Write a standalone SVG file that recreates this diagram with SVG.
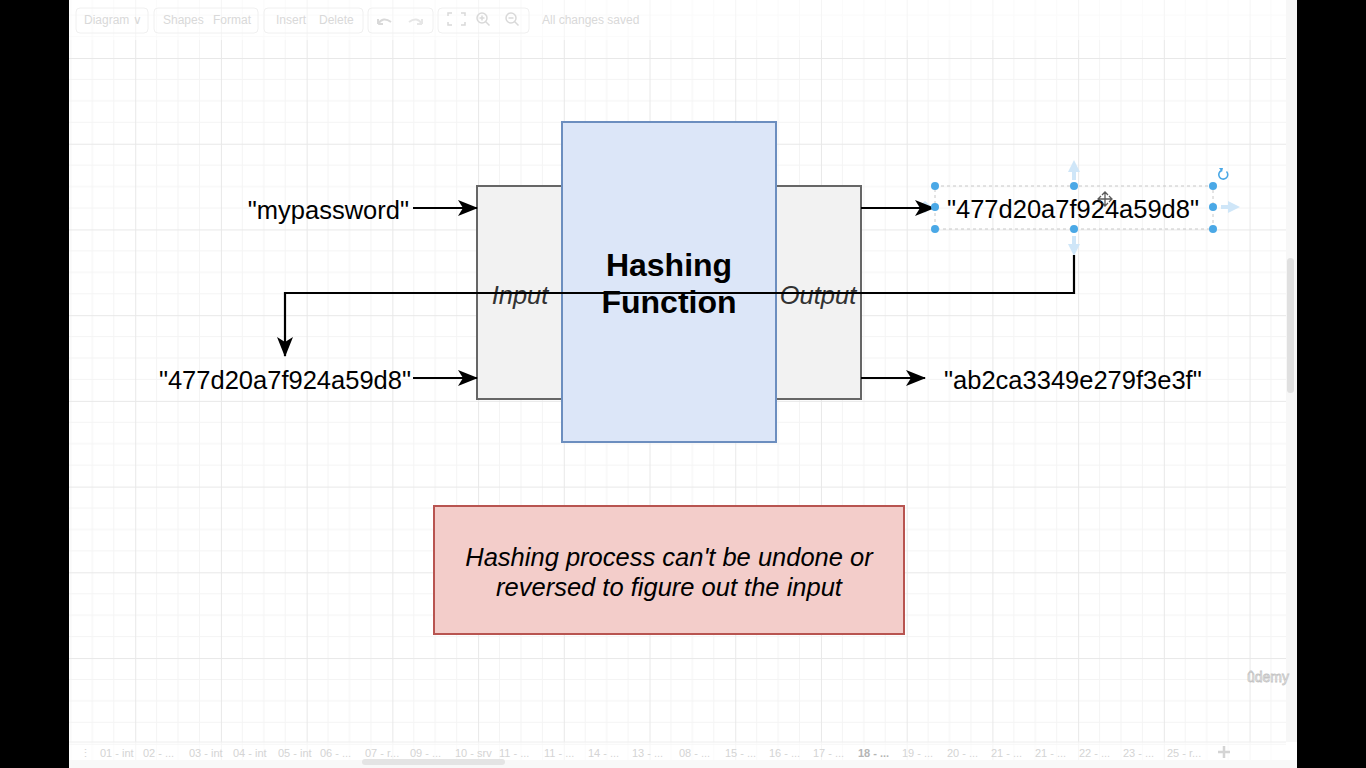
<svg xmlns="http://www.w3.org/2000/svg" width="1366" height="768" viewBox="0 0 1366 768">
  <defs>
    <pattern id="grid" patternUnits="userSpaceOnUse" x="135.2" y="58" width="85.72" height="85.72">
      <path d="M21.43,0V85.72M42.86,0V85.72M64.29,0V85.72M0,21.43H85.72M0,42.86H85.72M0,64.29H85.72" stroke="#f4f4f4" stroke-width="1" fill="none"/>
      <path d="M0.5,0V85.72M0,0.5H85.72" stroke="#e8e8e8" stroke-width="1" fill="none"/>
    </pattern>
    <marker id="arr" viewBox="0 0 20 16" refX="19" refY="8" markerWidth="20" markerHeight="16" markerUnits="userSpaceOnUse" orient="auto">
      <path d="M0,0 L20,8 L0,16 L5,8 Z" fill="#000"/>
    </marker>
    <marker id="hint" viewBox="0 0 12 12" refX="6" refY="6" markerWidth="12" markerHeight="12" markerUnits="userSpaceOnUse" orient="auto">
      <path d="M0,0 L12,6 L0,12 Z" fill="#cfe6f8"/>
    </marker>
  </defs>
  <style>
    .lbl { font-family: "Liberation Sans", Arial, sans-serif; font-size: 25.5px; fill: #000; }
    .it { font-family: "Liberation Sans", Arial, sans-serif; font-size: 25.5px; font-style: italic; fill: #333; }
    .bold { font-family: "Liberation Sans", Arial, sans-serif; font-size: 32px; font-weight: bold; fill: #000; }
    .box { fill: #f2f2f2; stroke: #666; stroke-width: 2; }
    .conn { stroke: #000; stroke-width: 2.2; fill: none; }
    .ui { font-family: "Liberation Sans", Arial, sans-serif; font-size: 12px; fill: #d9d9d9; }
    .tab { font-family: "Liberation Sans", Arial, sans-serif; font-size: 11px; fill: #d4d4d4; }
    .tbbox { fill: none; stroke: #f0f0f0; stroke-width: 1; }
    .handle { fill: #4aa8e6; }
    .hintl { stroke: #cfe6f8; stroke-width: 4; fill: none; }
  </style>

  <!-- frame -->
  <rect x="0" y="0" width="1366" height="768" fill="#000"/>
  <rect x="69" y="0" width="1228" height="768" fill="#fff"/>
  <rect x="69" y="0" width="1217" height="768" fill="url(#grid)"/>
  <rect x="1286" y="0" width="11" height="742" fill="#f7f7f7"/>
  <rect x="1287" y="258" width="7" height="135" rx="3.5" fill="#e0e0e0"/>

  <!-- faint toolbar -->
  <g id="toolbar">
    <rect x="69" y="0" width="1217" height="40" fill="#fff" opacity="0.55"/>
    <rect class="tbbox" x="76" y="8" width="72" height="25" rx="4"/>
    <rect class="tbbox" x="154" y="8" width="104" height="25" rx="4"/>
    <rect class="tbbox" x="264" y="8" width="99" height="25" rx="4"/>
    <rect class="tbbox" x="368" y="8" width="65" height="25" rx="4"/>
    <rect class="tbbox" x="438" y="8" width="91" height="25" rx="4"/>
    <text class="ui" x="84" y="24">Diagram ∨</text>
    <text class="ui" x="163" y="24">Shapes</text>
    <text class="ui" x="213" y="24">Format</text>
    <text class="ui" x="276" y="24">Insert</text>
    <text class="ui" x="319" y="24">Delete</text>
    <path d="M378,24 q5,-8 13,-2 M378,24 v-5 M378,24 h5" stroke="#d9d9d9" stroke-width="2" fill="none"/>
    <path d="M422,24 q-5,-8 -13,-2 M422,24 v-5 M422,24 h-5" stroke="#e6e6e6" stroke-width="2" fill="none"/>
    <path d="M448,16 v-3 h4 M461,13 h4 v3 M448,22 v3 h4 M461,25 h4 v-3" stroke="#d9d9d9" stroke-width="1.5" fill="none"/>
    <circle cx="482" cy="18" r="5" stroke="#d9d9d9" stroke-width="1.5" fill="none"/>
    <path d="M485.5,21.5 l4,4 M479.5,18 h5 M482,15.5 v5" stroke="#d9d9d9" stroke-width="1.5"/>
    <circle cx="511" cy="18" r="5" stroke="#d9d9d9" stroke-width="1.5" fill="none"/>
    <path d="M514.5,21.5 l4,4 M508.5,18 h5" stroke="#d9d9d9" stroke-width="1.5"/>
    <text class="ui" x="542" y="24">All changes saved</text>
  </g>

  <!-- nodes -->
  <g id="input-box">
    <rect class="box" x="477" y="186" width="85" height="213"/>
    <text class="it" x="520" y="304" text-anchor="middle">Input</text>
  </g>
  <g id="output-box">
    <rect class="box" x="776" y="186" width="85" height="213"/>
    <text class="it" x="818" y="304" text-anchor="middle">Output</text>
  </g>
  <g id="hashing-function">
    <rect x="562" y="122" width="214" height="320" fill="#dce6f8" stroke="#6c8ebf" stroke-width="2"/>
    <text class="bold" x="669" y="276" text-anchor="middle">Hashing</text>
    <text class="bold" x="669" y="313" text-anchor="middle">Function</text>
  </g>
  <g id="in-mypassword">
    <text class="lbl" x="409" y="218.5" text-anchor="end">"mypassword"</text>
  </g>
  <g id="in-hash">
    <text class="lbl" x="411" y="388.5" text-anchor="end">"477d20a7f924a59d8"</text>
  </g>
  <g id="out-hash1">
    <rect x="935" y="186" width="278" height="43" fill="none" stroke="#c8c8c8" stroke-width="1" stroke-dasharray="3 3"/>
    <text class="lbl" x="1073" y="218" text-anchor="middle">"477d20a7f924a59d8"</text>
  </g>
  <g id="out-hash2">
    <text class="lbl" x="944" y="388.5">"ab2ca3349e279f3e3f"</text>
  </g>
  <g id="note">
    <rect x="434" y="506" width="470" height="128" fill="#f3cdca" stroke="#b85450" stroke-width="2"/>
    <text class="it" x="669" y="566" text-anchor="middle" style="fill:#000">Hashing process can't be undone or</text>
    <text class="it" x="669" y="596" text-anchor="middle" style="fill:#000">reversed to figure out the input</text>
  </g>

  <!-- selection hints -->
  <g id="selection">
    <path class="hintl" d="M1074,180 V166" marker-end="url(#hint)"/>
    <path class="hintl" d="M1221,207 H1234" marker-end="url(#hint)"/>
    <path class="hintl" d="M1074,236 V250" marker-end="url(#hint)"/>
    <path d="M918,207 l7,-6 l7,6 l-7,6 z" fill="#cfe6f8"/>
    <path d="M1226.5,171.5 a4.5,4.5 0 1 1 -5,-1" stroke="#4aa8e6" stroke-width="1.6" fill="none"/>
    <path d="M1219,168 l4,0 l-1,4 z" fill="#4aa8e6"/>
  </g>

  <!-- connectors -->
  <g id="connectors">
    <path class="conn" d="M413,208 H477" marker-end="url(#arr)"/>
    <path class="conn" d="M413,378 H477" marker-end="url(#arr)"/>
    <path class="conn" d="M861,208 H934" marker-end="url(#arr)"/>
    <path class="conn" d="M861,378 H925" marker-end="url(#arr)"/>
    <path class="conn" d="M1074,255 V293 H285 V356" marker-end="url(#arr)"/>
  </g>

  <g id="handles">
    <circle class="handle" cx="935" cy="186" r="4"/>
    <circle class="handle" cx="1074" cy="186" r="4"/>
    <circle class="handle" cx="1213" cy="186" r="4"/>
    <circle class="handle" cx="935" cy="207" r="4"/>
    <circle class="handle" cx="1213" cy="207" r="4"/>
    <circle class="handle" cx="935" cy="229" r="4"/>
    <circle class="handle" cx="1074" cy="229" r="4"/>
    <circle class="handle" cx="1213" cy="229" r="4"/>
    <path d="M1105,192 V206 M1098,199 H1112 M1102,195 l3,-3 l3,3 M1102,203 l3,3 l3,-3 M1101,196 l-3,3 l3,3 M1109,196 l3,3 l-3,3" stroke="#333" stroke-width="1.3" fill="none" opacity="0.8"/>
  </g>

  <!-- watermark -->
  <text x="1247" y="682" style="font-family:'Liberation Sans',Arial,sans-serif;font-size:14px;fill:#fff;stroke:#c4c4c4;stroke-width:0.8">ûdemy</text>

  <!-- faint tab bar -->
  <g id="tabbar">
    <rect x="69" y="742" width="1228" height="26" fill="#fff" opacity="0.6"/>
    <line x1="69" y1="742" x2="1286" y2="742" stroke="#eee" stroke-width="1"/>
    <rect x="69" y="760" width="1228" height="8" fill="#f8f8f8"/>
    <rect x="362" y="759" width="143" height="6" rx="3" fill="#e4e4e4"/>
    <text class="tab" x="80" y="757">⋮</text>
    <text class="tab" x="100" y="757">01 - int</text>
    <text class="tab" x="143" y="757">02 - ...</text>
    <text class="tab" x="189" y="757">03 - int</text>
    <text class="tab" x="233" y="757">04 - int</text>
    <text class="tab" x="278" y="757">05 - int</text>
    <text class="tab" x="320" y="757">06 - ...</text>
    <text class="tab" x="365" y="757">07 - r...</text>
    <text class="tab" x="410" y="757">09 - ...</text>
    <text class="tab" x="455" y="757">10 - srv</text>
    <text class="tab" x="499" y="757">11 - ...</text>
    <text class="tab" x="544" y="757">11 - ...</text>
    <text class="tab" x="588" y="757">14 - ...</text>
    <text class="tab" x="632" y="757">13 - ...</text>
    <text class="tab" x="679" y="757">08 - ...</text>
    <text class="tab" x="725" y="757">15 - ...</text>
    <text class="tab" x="769" y="757">16 - ...</text>
    <text class="tab" x="813" y="757">17 - ...</text>
    <text class="tab" x="858" y="757" style="font-weight:bold;fill:#b5b5b5">18 - ...</text>
    <text class="tab" x="902" y="757">19 - ...</text>
    <text class="tab" x="947" y="757">20 - ...</text>
    <text class="tab" x="991" y="757">21 - ...</text>
    <text class="tab" x="1035" y="757">21 - ...</text>
    <text class="tab" x="1079" y="757">22 - ...</text>
    <text class="tab" x="1123" y="757">23 - ...</text>
    <text class="tab" x="1167" y="757">25 - r...</text>
    <path d="M1224,746 V758 M1218,752 H1230" stroke="#d4d4d4" stroke-width="2.5"/>
  </g>
</svg>
